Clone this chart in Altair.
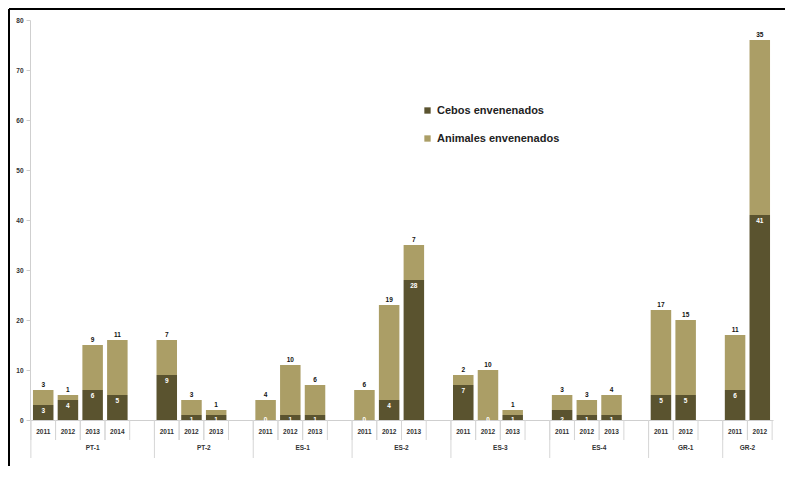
import altair as alt
import pandas as pd

groups = ["PT-1", "PT-2", "ES-1", "ES-2", "ES-3", "ES-4", "GR-1", "GR-2"]
years = [
    ["2011", "2012", "2013", "2014"],
    ["2011", "2012", "2013"],
    ["2011", "2012", "2013"],
    ["2011", "2012", "2013"],
    ["2011", "2012", "2013"],
    ["2011", "2012", "2013"],
    ["2011", "2012"],
    ["2011", "2012"],
]
cebos = [[3, 4, 6, 5], [9, 1, 1], [0, 1, 1], [0, 4, 28], [7, 0, 1], [2, 1, 1], [5, 5], [6, 41]]
animales = [[3, 1, 9, 11], [7, 3, 1], [4, 10, 6], [6, 19, 7], [2, 10, 1], [3, 3, 4], [17, 15], [11, 35]]
series = ["Cebos envenenados", "Animales envenenados"]
colors = ["#5a532f", "#ab9e66"]
y_ticks = [0, 10, 20, 30, 40, 50, 60, 70, 80]

# ---- build tables ----
domain = []
rows, tops, darks, ylabs = [], [], [], []
firsts, lab_center, lab_edge = [], [], []
for gi, g in enumerate(groups):
    keys = []
    for yi, yr in enumerate(years[gi]):
        k = f"{g} {yr}"
        keys.append(k)
        domain.append(k)
        c = cebos[gi][yi]
        a = animales[gi][yi]
        rows.append({"key": k, "serie": series[0], "cnt": c, "ord": 0})
        rows.append({"key": k, "serie": series[1], "cnt": a, "ord": 1})
        tops.append({"key": k, "total": c + a, "label": str(a)})
        darks.append({"key": k, "pos": float(c) if c >= 3 else 1.3, "label": str(c)})
        ylabs.append({"key": k, "year": yr})
    firsts.append({"key": keys[0]})
    last = gi == len(groups) - 1
    nslots = len(keys) + (0 if last else 1)
    if not last:
        domain.append(f"~{gi}")
    if nslots % 2 == 1:
        lab_center.append({"key": keys[nslots // 2], "group": g})
    else:
        lab_edge.append({"key": keys[nslots // 2 - 1], "group": g})

df = pd.DataFrame(rows)
df_top = pd.DataFrame(tops)
df_dark = pd.DataFrame(darks)
df_year = pd.DataFrame(ylabs)
df_first = pd.DataFrame(firsts)
df_lc = pd.DataFrame(lab_center)
df_le = pd.DataFrame(lab_edge)

W, H = 743, 400
FONT = "Liberation Sans"
PI = 0.17
HALF_GAP = round(PI * (W / (len(domain) - PI + 0.24)) / 2, 2)
xscale = alt.Scale(domain=domain, paddingInner=PI, paddingOuter=0.12)
yscale = alt.Scale(domain=[0, 80])
GRID = "#d6d6d6"
TXT = "#333333"

xenc = alt.X("key:N", scale=xscale, title="",
             axis=alt.Axis(labels=False, ticks=False, domainColor="#cfcfcf"))

bars = alt.Chart(df).mark_bar().encode(
    x=xenc,
    y=alt.Y(
        "cnt:Q",
        stack="zero",
        scale=yscale,
        title="",
        axis=alt.Axis(
            values=y_ticks,
            grid=False,
            labelFontSize=6.5,
            labelFontWeight="bold",
            labelColor=TXT,
            labelFont=FONT,
            tickSize=4,
            tickColor="#cfcfcf",
            domainColor="#cfcfcf",
            labelPadding=3,
        ),
    ),
    color=alt.Color(
        "serie:N",
        scale=alt.Scale(domain=series, range=colors),
        legend=alt.Legend(
            title=None,
            orient="none",
            legendX=392,
            legendY=85,
            symbolType="square",
            symbolSize=40,
            symbolStrokeWidth=0,
            labelFontSize=11,
            labelFontWeight="bold",
            labelColor="#222222",
            labelFont=FONT,
            rowPadding=16,
            labelOffset=4,
        ),
    ),
    order=alt.Order("ord:Q"),
)

top_text = alt.Chart(df_top).mark_text(
    dy=-5, fontSize=6.5, fontWeight="bold", color="#111111", font=FONT
).encode(x=xenc, y=alt.Y("total:Q", scale=yscale), text="label:N")

dark_text = alt.Chart(df_dark).mark_text(
    dy=6, fontSize=6.5, fontWeight="bold", color="#ffffff", font=FONT
).encode(x=xenc, y=alt.Y("pos:Q", scale=yscale), text="label:N")

year_text = alt.Chart(df_year).mark_text(
    fontSize=6.5, fontWeight="bold", color=TXT, font=FONT
).encode(x=xenc, y=alt.value(H + 12), text="year:N")

tick_l = alt.Chart(df_year).mark_rule(color=GRID, strokeWidth=1, xOffset=-HALF_GAP).encode(
    x=alt.X("key:N", scale=xscale, bandPosition=0), y=alt.value(H), y2=alt.value(H + 20)
)
tick_r = alt.Chart(df_year).mark_rule(color=GRID, strokeWidth=1, xOffset=HALF_GAP).encode(
    x=alt.X("key:N", scale=xscale, bandPosition=1), y=alt.value(H), y2=alt.value(H + 20)
)
seps = alt.Chart(df_first).mark_rule(color=GRID, strokeWidth=1, xOffset=-HALF_GAP).encode(
    x=alt.X("key:N", scale=xscale, bandPosition=0), y=alt.value(H), y2=alt.value(H + 38)
)

grp_c = alt.Chart(df_lc).mark_text(
    fontSize=6.5, fontWeight="bold", color=TXT, font=FONT
).encode(x=xenc, y=alt.value(H + 28), text="group:N")

grp_e = alt.Chart(df_le).mark_text(
    fontSize=6.5, fontWeight="bold", color=TXT, font=FONT, dx=HALF_GAP
).encode(x=alt.X("key:N", scale=xscale, bandPosition=1), y=alt.value(H + 28), text="group:N")

frame_top = alt.Chart(df_first).mark_rule(color="#000000", strokeWidth=1.5).encode(
    x=alt.value(-21), x2=alt.value(W + 40), y=alt.value(-11)
)
frame_left = alt.Chart(df_first).mark_rule(color="#000000", strokeWidth=1.5).encode(
    x=alt.value(-21), y=alt.value(-11), y2=alt.value(H + 46)
)

chart = (
    alt.layer(bars, top_text, dark_text, tick_l, tick_r, seps, year_text, grp_c, grp_e,
              frame_top, frame_left)
    .properties(
        width=W,
        height=H,
        autosize=alt.AutoSizeParams(type="none"),
        padding={"left": 22, "top": 12, "right": 12, "bottom": 46},
    )
    .configure_view(strokeWidth=0)
)

chart.save("out.html", embed_options={"renderer": "svg", "actions": False})
